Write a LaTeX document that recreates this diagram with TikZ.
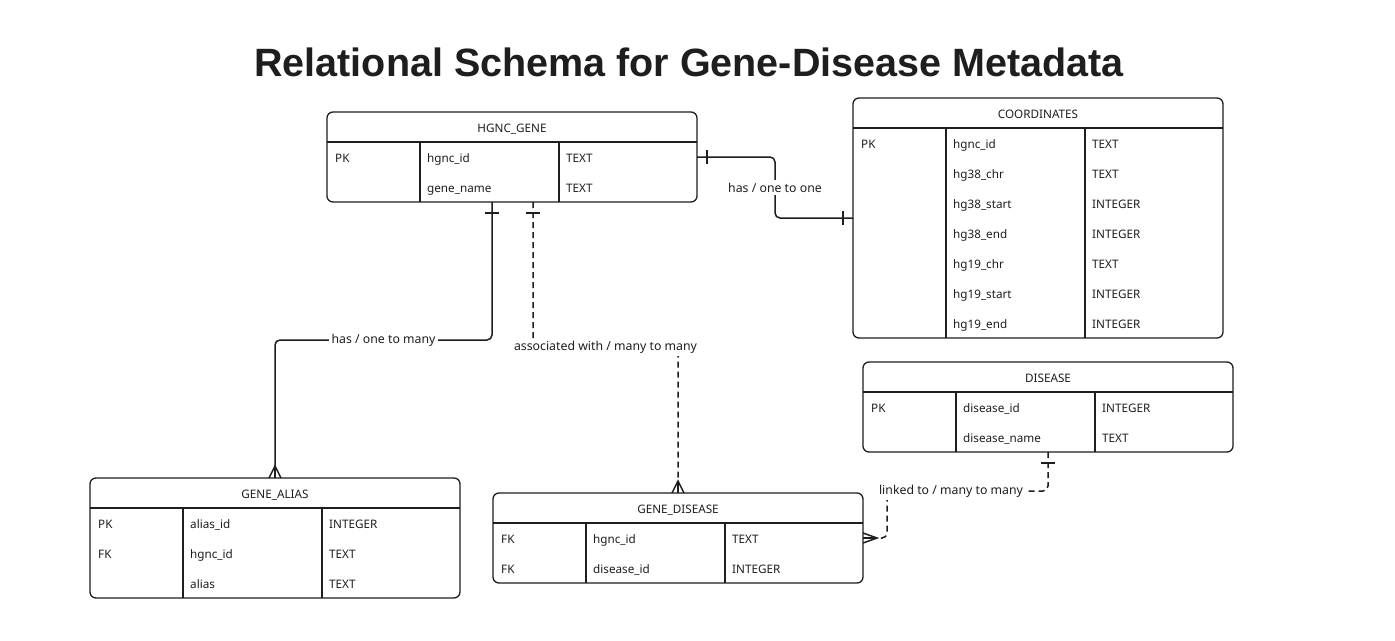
\documentclass[tikz,border=0pt]{standalone}
\usepackage{fontspec}
\setmainfont{Noto Sans}
\newfontfamily\titlefont{Liberation Sans}
\usetikzlibrary{calc}
\definecolor{ink}{HTML}{1E1E1E}
\tikzset{
  tbl/.style={draw=ink, line width=1.3pt, rounded corners=6pt, inner sep=0pt, outer sep=0pt, minimum width=370pt},
  tline/.style={draw=ink, line width=1.3pt},
  cell/.style={anchor=base west, inner sep=0pt, text=ink, font=\fontsize{11.7}{13}\selectfont},
  ttl/.style={anchor=base, inner sep=0pt, text=ink, font=\fontsize{11.7}{13}\selectfont},
  conn/.style={draw=ink, line width=1.5pt, rounded corners=5pt},
  dconn/.style={conn, dash pattern=on 6pt off 4pt},
  relend/.style={draw=ink, line width=1.5pt},
  rlabel/.style={fill=white, inner sep=2.5pt, text=ink, font=\fontsize{12.3}{14}\selectfont},
}
\newcommand\ertab[6]{%
  \pgfmathsetmacro\ertabh{30+30*#5}%
  \node[tbl, anchor=north west, minimum height=\ertabh pt] (#1) at (#2,#3) {};
  \node[ttl] (#1-title) at ($(#1.north)+(0,20)$) {#4};
  \draw[tline] ($(#1.north west)+(0,30)$) -- ($(#1.north east)+(0,30)$);
  \draw[tline] ($(#1.north west)+(93,30)$) -- ($(#1.south west)+(93,0)$);
  \draw[tline] ($(#1.north west)+(232,30)$) -- ($(#1.south west)+(232,0)$);
  \foreach \k/\n/\t [count=\i] in {#6} {
    \node[cell] (#1-k\i) at ($(#1.north west)+(8,30*\i+20)$) {\k};
    \node[cell] (#1-n\i) at ($(#1.north west)+(100,30*\i+20)$) {\n};
    \node[cell] (#1-t\i) at ($(#1.north west)+(239,30*\i+20)$) {\t};
  }%
}
\begin{document}
\begin{tikzpicture}[x=1pt,y=-1pt]
\fill[white] (0,0) rectangle (1395,640);
\useasboundingbox (0,0) rectangle (1395,640);

\node[anchor=base, inner sep=0pt, text=ink, font=\titlefont\bfseries\fontsize{39.5}{44}\selectfont] (title) at (689,76) {Relational Schema for Gene-Disease Metadata};

\ertab{hg}{327}{112}{HGNC\_GENE}{2}{PK/hgnc\_id/TEXT, {}/gene\_name/TEXT}
\ertab{coord}{853}{98}{COORDINATES}{7}{PK/hgnc\_id/TEXT, {}/hg38\_chr/TEXT, {}/hg38\_start/INTEGER, {}/hg38\_end/INTEGER, {}/hg19\_chr/TEXT, {}/hg19\_start/INTEGER, {}/hg19\_end/INTEGER}
\ertab{dis}{863}{362}{DISEASE}{2}{PK/disease\_id/INTEGER, {}/disease\_name/TEXT}
\ertab{alias}{90}{478}{GENE\_ALIAS}{3}{PK/alias\_id/INTEGER, FK/hgnc\_id/TEXT, {}/alias/TEXT}
\ertab{gd}{493}{493}{GENE\_DISEASE}{2}{FK/hgnc\_id/TEXT, FK/disease\_id/INTEGER}

% 1: HGNC_GENE -> COORDINATES (one to one)
\coordinate (c1a) at ($(hg.north east)+(0,45)$);
\coordinate (m1) at ($(c1a)!0.5!(coord.west)$);
\draw[conn] (c1a) -- (c1a -| m1) -- (m1 |- coord.west) -- (coord.west);
\node[rlabel] (l1) at (m1) {has / one to one};
\draw[relend] ($(c1a)+(10,-7)$) -- ($(c1a)+(10,7)$);
\draw[relend] ($(coord.west)+(-10,-7)$) -- ($(coord.west)+(-10,7)$);

% 2: HGNC_GENE -> GENE_ALIAS (one to many)
\coordinate (c2a) at ($(hg.south west)+(165,0)$);
\coordinate (m2) at ($(c2a)!0.5!(alias.north)$);
\draw[conn] (c2a) -- (c2a |- m2) -- (alias.north |- m2) -- (alias.north);
\node[rlabel] (l2) at (m2) {has / one to many};
\draw[relend] ($(c2a)+(-7,11)$) -- ($(c2a)+(7,11)$);
\draw[relend] ($(alias.north)+(-6,0)$) -- ($(alias.north)+(0,-12)$) -- ($(alias.north)+(6,0)$);
\draw[relend] ($(alias.north)+(0,-12)$) -- (alias.north);

% 3: HGNC_GENE -> GENE_DISEASE (many to many, dashed)
\coordinate (c3a) at ($(hg.south west)+(206,0)$);
\coordinate (m3) at ($(c3a)!0.5!(gd.north)$);
\draw[dconn] (c3a) -- (c3a |- m3) -- (gd.north |- m3) -- (gd.north);
\node[rlabel] (l3) at (m3) {associated with / many to many};
\draw[relend] ($(c3a)+(-7,11)$) -- ($(c3a)+(7,11)$);
\draw[relend] ($(gd.north)+(-6,0)$) -- ($(gd.north)+(0,-12)$) -- ($(gd.north)+(6,0)$);
\draw[relend] ($(gd.north)+(0,-12)$) -- (gd.north);

% 4: DISEASE -> GENE_DISEASE (many to many, dashed)
\coordinate (c4b) at ($(gd.north east)+(0,45)$);
\coordinate (k4) at ($(dis.south)+(0,39)$);
\draw[dconn] (dis.south) -- (k4) -- (k4 -| {$(c4b)+(24,0)$}) -- ($(c4b)+(24,0)$) -- (c4b);
\node[rlabel] (l4) at ($(k4)+(-97,0)$) {linked to / many to many};
\draw[relend] ($(dis.south)+(-7,11)$) -- ($(dis.south)+(7,11)$);
\draw[relend] ($(c4b)+(0,-5)$) -- ($(c4b)+(14,0)$) -- ($(c4b)+(0,5)$);
\draw[relend] ($(c4b)+(14,0)$) -- (c4b);
\end{tikzpicture}
\end{document}
